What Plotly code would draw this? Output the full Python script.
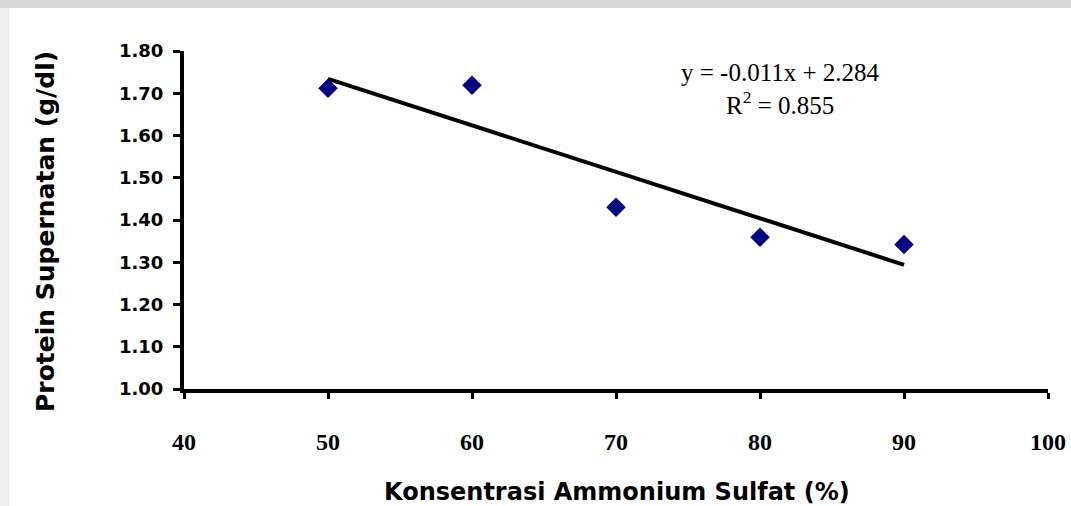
import plotly.graph_objects as go

# Data
konsentrasi = [50, 60, 70, 80, 90]
protein = [1.712, 1.719, 1.430, 1.359, 1.342]

# Trend line parameters (as printed on the chart)
slope = -0.011
intercept = 2.284
trend_x = [50, 90]
equation_text = "y = -0.011x + 2.284"
r2_text = "R<sup>2</sup> = 0.855"

x_ticks = [40, 50, 60, 70, 80, 90, 100]
y_ticks = [1.00, 1.10, 1.20, 1.30, 1.40, 1.50, 1.60, 1.70, 1.80]

W, H = 1071, 506
L, R, T, B = 184, 23, 51, 117
PW, PH = W - L - R, H - T - B


def px_x(p):
    return (p - L) / PW


def px_y(p):
    return (H - B - p) / PH


fig = go.Figure()

fig.add_trace(go.Scatter(
    x=trend_x,
    y=[slope * v + intercept for v in trend_x],
    mode="lines",
    line=dict(color="black", width=4),
    showlegend=False,
    hoverinfo="skip",
))

fig.add_trace(go.Scatter(
    x=konsentrasi,
    y=protein,
    mode="markers",
    marker=dict(symbol="diamond", size=15, color="#000080",
                line=dict(width=0)),
    showlegend=False,
))

axis_common = dict(
    showgrid=False, zeroline=False, showline=True, linecolor="black",
    linewidth=4, ticks="outside", tickcolor="black", tickwidth=3,
    mirror=False, automargin=False,
)

fig.update_xaxes(
    range=[40, 100], tickvals=x_ticks, ticktext=[str(v) for v in x_ticks],
    ticklen=6, ticklabelstandoff=22,
    tickfont=dict(family="Liberation Serif", size=24, color="black",
                  weight="bold"),
    **axis_common,
)
fig.update_yaxes(
    range=[1.0, 1.8], tickvals=y_ticks,
    ticktext=[f"{v:.2f}" for v in y_ticks],
    ticklen=7, ticklabelstandoff=6,
    tickfont=dict(family="DejaVu Sans", size=18, color="black",
                  weight="bold"),
    **axis_common,
)

annotations = [
    dict(text=equation_text, x=81.4, y=1.7496, xref="x", yref="y",
         showarrow=False, xanchor="center", yanchor="middle",
         font=dict(family="Liberation Serif", size=25, color="black")),
    dict(text=r2_text, x=81.4, y=1.676, xref="x", yref="y",
         showarrow=False, xanchor="center", yanchor="middle",
         font=dict(family="Liberation Serif", size=25, color="black")),
    dict(text="Protein Supernatan (g/dl)", x=px_x(45), y=px_y(232),
         xref="paper", yref="paper", showarrow=False, textangle=-90,
         xanchor="center", yanchor="middle",
         font=dict(family="DejaVu Sans", size=25, color="black",
                   weight="bold")),
    dict(text="Konsentrasi Ammonium Sulfat (%)", x=px_x(617),
         y=px_y(492), xref="paper", yref="paper", showarrow=False,
         xanchor="center", yanchor="middle",
         font=dict(family="DejaVu Sans", size=24, color="black",
                   weight="bold")),
]

shapes = [
    dict(type="rect", xref="paper", yref="paper", layer="below",
         x0=px_x(0), x1=px_x(W), y0=px_y(8), y1=px_y(0),
         fillcolor="#d9d9d9", line=dict(width=0)),
    dict(type="rect", xref="paper", yref="paper", layer="below",
         x0=px_x(0), x1=px_x(9), y0=px_y(H), y1=px_y(8),
         fillcolor="#eeeeee", line=dict(width=0)),
]

fig.update_layout(
    width=W, height=H,
    margin=dict(l=L, r=R, t=T, b=B, autoexpand=False),
    paper_bgcolor="white", plot_bgcolor="white",
    annotations=annotations, shapes=shapes,
    showlegend=False,
)

fig.write_html("out.html")
